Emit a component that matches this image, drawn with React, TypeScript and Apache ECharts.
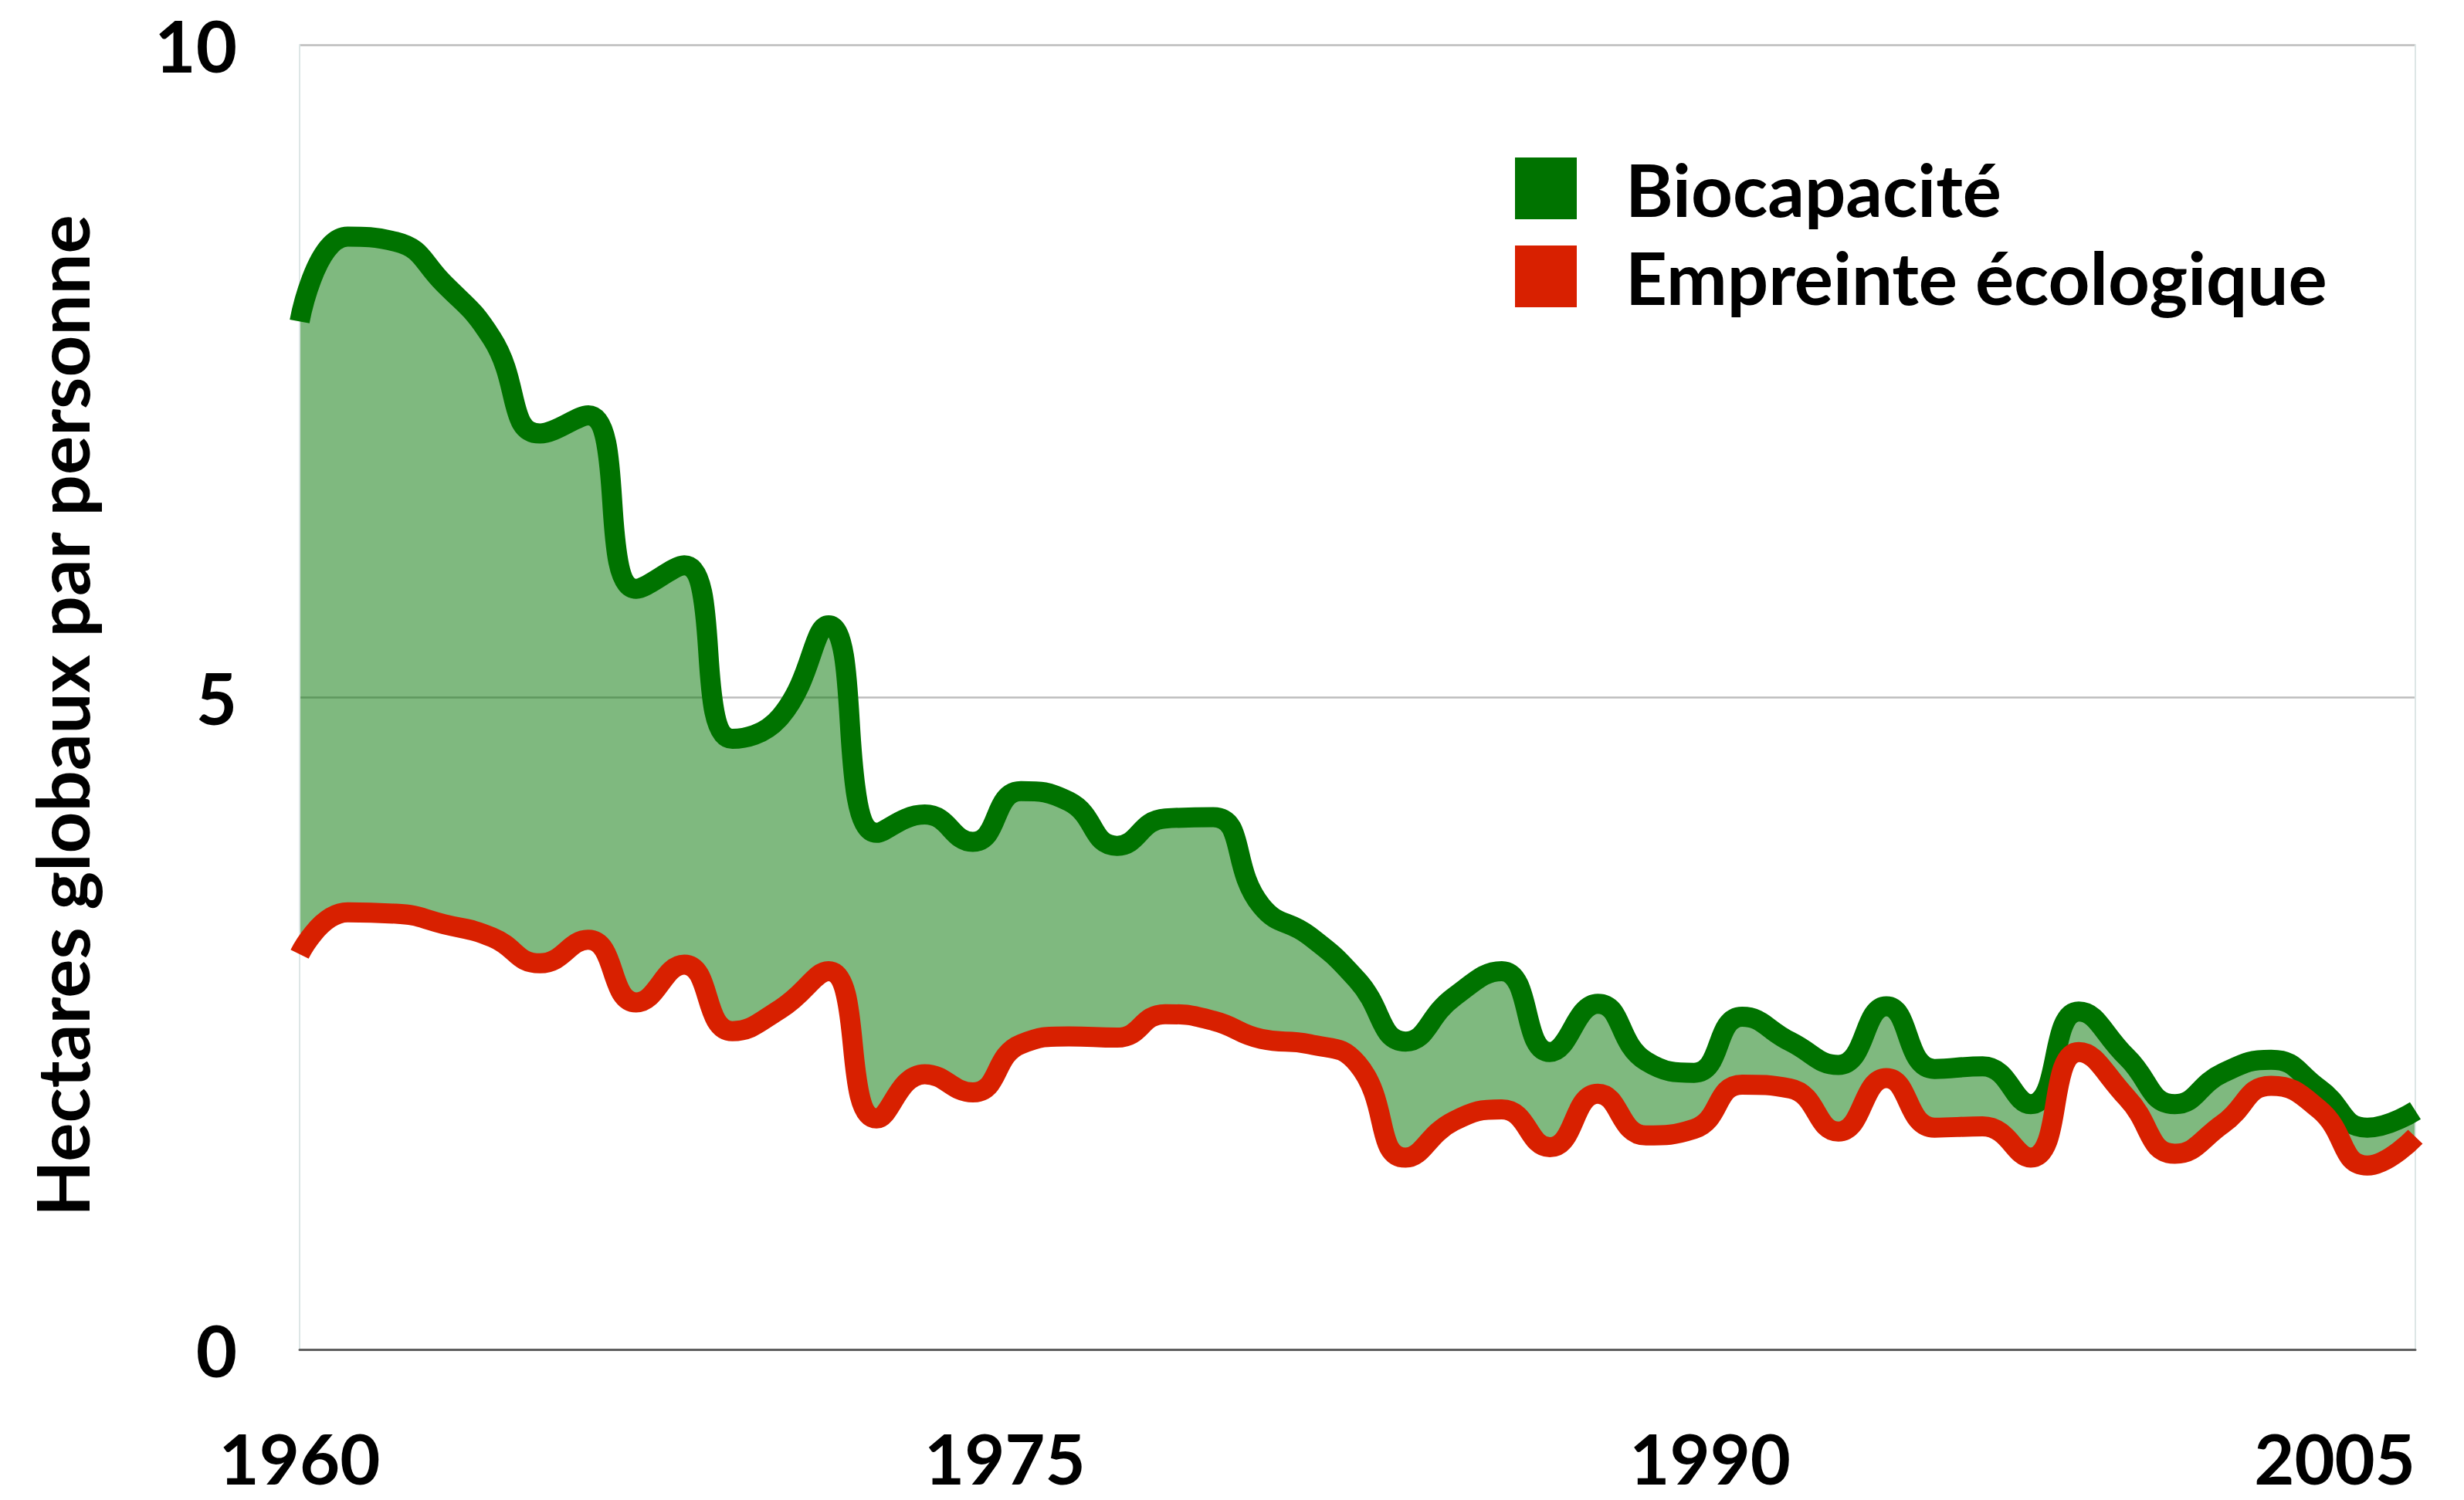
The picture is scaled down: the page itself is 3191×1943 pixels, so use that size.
import React, { useEffect, useRef } from "react";
import * as echarts from "echarts";

// Years of the data (one point per year)
const years = [
  1961, 1962, 1963, 1964, 1965, 1966, 1967, 1968, 1969, 1970,
  1971, 1972, 1973, 1974, 1975, 1976, 1977, 1978, 1979, 1980,
  1981, 1982, 1983, 1984, 1985, 1986, 1987, 1988, 1989, 1990,
  1991, 1992, 1993, 1994, 1995, 1996, 1997, 1998, 1999, 2000,
  2001, 2002, 2003, 2004, 2005,
];

// Biocapacité (hectares globaux par personne)
const biocapacite = [
  7.88, 8.53, 8.49, 8.17, 7.75, 7.02, 7.16, 5.83, 6.01, 4.68,
  4.85, 5.55, 3.96, 4.10, 3.89, 4.28, 4.20, 3.86, 4.07, 4.08,
  3.40, 3.17, 2.83, 2.36, 2.70, 2.90, 2.28, 2.65, 2.21, 2.12,
  2.55, 2.36, 2.18, 2.63, 2.15, 2.17, 1.88, 2.59, 2.24, 1.88,
  2.12, 2.22, 2.00, 1.70, 1.83,
];

// Empreinte écologique (hectares globaux par personne)
const empreinte = [
  3.03, 3.35, 3.34, 3.26, 3.16, 2.96, 3.14, 2.66, 2.95, 2.44,
  2.61, 2.90, 1.77, 2.11, 1.97, 2.34, 2.40, 2.39, 2.57, 2.52,
  2.38, 2.34, 2.19, 1.47, 1.75, 1.84, 1.55, 1.96, 1.64, 1.69,
  2.03, 2.00, 1.67, 2.08, 1.70, 1.71, 1.47, 2.28, 1.93, 1.50,
  1.73, 2.02, 1.84, 1.41, 1.63,
];

const seriesNames = ["Biocapacité", "Empreinte écologique"];
const yAxisTitle = "Hectares globaux par personne";

const GREEN = "#007300";
const RED = "#d82000";
const FONT = "Lato";

export default function App() {
  const ref = useRef<HTMLDivElement>(null);

  useEffect(() => {
    if (!ref.current) return;
    const chart = echarts.init(ref.current, null, { renderer: "svg" });

    const greenData = years.map((y, i) => [y, biocapacite[i]]);
    const redData = years.map((y, i) => [y, empreinte[i]]);

    const labelStyle = {
      fontFamily: FONT,
      fontWeight: "bold" as const,
      fontSize: 92,
      color: "#000",
    };

    const hiddenLine = { opacity: 0, width: 0 };
    const smoothing = { smooth: 0.5, smoothConstraint: false };

    chart.setOption({
      animation: false,
      textStyle: { fontFamily: FONT },
      grid: { left: 388, right: 63, top: 58, bottom: 195, containLabel: false },
      legend: {
        orient: "vertical",
        left: 1957,
        top: 192,
        itemWidth: 80,
        itemHeight: 80,
        itemGap: 20,
        icon: "rect",
        selectedMode: false,
        data: seriesNames,
        itemStyle: { borderWidth: 0 },
        textStyle: { ...labelStyle, fontSize: 94, lineHeight: 80, padding: [0, 0, 0, 58] },
      },
      xAxis: [
        {
          type: "value",
          min: 1961,
          max: 2005,
          show: false,
        },
        {
          type: "value",
          position: "bottom",
          min: 1960,
          max: 2005,
          interval: 15,
          z: 6,
          axisLine: { show: true, lineStyle: { color: "#5f5f5f", width: 3 } },
          axisTick: { show: false },
          splitLine: { show: false },
          axisLabel: {
            ...labelStyle,
            fontSize: 90,
            lineHeight: 72,
            margin: 104,
            alignMaxLabel: "right",
            formatter: (v: number) => String(v),
          },
        },
      ],
      yAxis: [
        {
          type: "value",
          min: 0,
          max: 10,
          interval: 5,
          name: yAxisTitle,
          nameLocation: "middle",
          nameRotate: 90,
          nameGap: 262,
          nameTextStyle: { ...labelStyle, fontSize: 94, padding: [0, 48, 0, 0] },
          axisLine: { show: false },
          axisTick: { show: false },
          axisLabel: { ...labelStyle, margin: 81 },
          splitLine: { show: true, lineStyle: { color: "#bdbdbd", width: 2.5 } },
        },
        {
          type: "value",
          position: "right",
          min: 0,
          max: 10,
          interval: 5,
          z: 3,
          axisLine: { show: true, lineStyle: { color: "#dde6e6", width: 2 } },
          axisTick: { show: false },
          axisLabel: { show: false },
          splitLine: { show: false },
        },
        {
          type: "value",
          position: "left",
          min: 0,
          max: 10,
          interval: 5,
          z: 3,
          axisLine: { show: true, lineStyle: { color: "#dde6e6", width: 2 } },
          axisTick: { show: false },
          axisLabel: { show: false },
          splitLine: { show: false },
        },
      ],
      series: [
        {
          name: "fill",
          type: "line",
          data: greenData,
          ...smoothing,
          showSymbol: false,
          symbol: "none",
          silent: true,
          lineStyle: hiddenLine,
          areaStyle: { color: "rgba(0,115,0,0.5)", opacity: 1 },
          z: 1,
        },
        {
          name: "cover",
          type: "line",
          data: redData,
          ...smoothing,
          showSymbol: false,
          symbol: "none",
          silent: true,
          lineStyle: hiddenLine,
          areaStyle: { color: "#ffffff", opacity: 1 },
          z: 2,
        },
        {
          name: seriesNames[0],
          type: "line",
          data: greenData,
          ...smoothing,
          showSymbol: false,
          symbol: "none",
          color: GREEN,
          itemStyle: { color: GREEN },
          lineStyle: { color: GREEN, width: 26, cap: "butt", join: "round" },
          z: 4,
        },
        {
          name: seriesNames[1],
          type: "line",
          data: redData,
          ...smoothing,
          showSymbol: false,
          symbol: "none",
          color: RED,
          itemStyle: { color: RED },
          lineStyle: { color: RED, width: 26, cap: "butt", join: "round" },
          z: 5,
        },
      ],
    });

    return () => chart.dispose();
  }, []);

  return (
    <div
      ref={ref}
      style={{ position: "fixed", left: 0, top: 0, width: 3191, height: 1943, background: "#fff" }}
    />
  );
}
